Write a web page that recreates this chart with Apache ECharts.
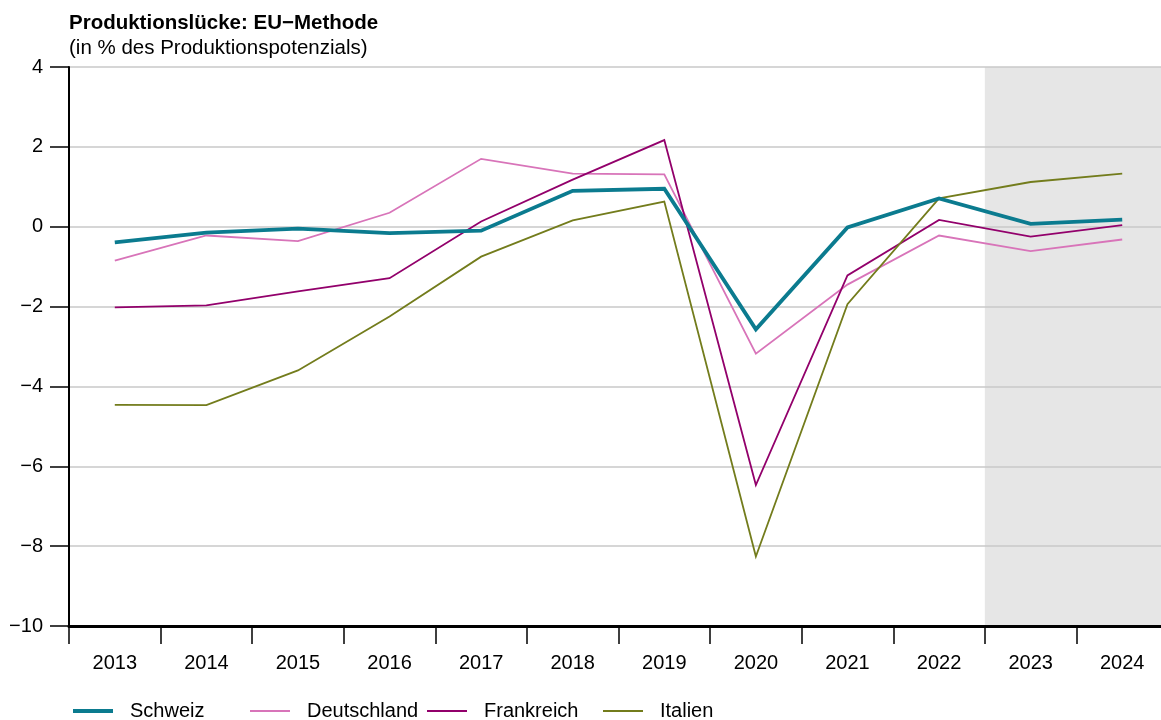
<!DOCTYPE html>
<html><head><meta charset="utf-8">
<script src="https://cdn.jsdelivr.net/npm/echarts@6/dist/echarts.min.js"></script>
<style>html,body{margin:0;padding:0;background:#fff}#c{width:1161px;height:720px}</style>
</head><body><div id="c"></div>
<script>
const years = ['2013','2014','2015','2016','2017','2018','2019','2020','2021','2022','2023','2024'];
const schweiz     = [-0.39, -0.15, -0.05, -0.16, -0.10, 0.90, 0.95, -2.57, -0.02, 0.71, 0.07, 0.18];
const deutschland = [-0.85, -0.22, -0.36, 0.35, 1.70, 1.33, 1.31, -3.18, -1.45, -0.22, -0.61, -0.32];
const frankreich  = [-2.02, -1.97, -1.62, -1.29, 0.13, 1.18, 2.17, -6.47, -1.22, 0.17, -0.25, 0.04];
const italien     = [-4.46, -4.47, -3.60, -2.25, -0.75, 0.16, 0.63, -8.26, -1.94, 0.71, 1.12, 1.33];
const yTicks = [-10, -8, -6, -4, -2, 0, 2, 4];
const forecastStart = 10, forecastEnd = 12;

const FONT = 'Liberation Sans, Arial, Helvetica, sans-serif';
const minus = v => String(v).replace('-', '\u2212');
const colors = {Schweiz:'#0b7b8f', Deutschland:'#d874b9', Frankreich:'#92006b', Italien:'#737c1c'};

function legendFor(name, left, h) {
  return {
    data: [{name: name}], left: left, top: 701, padding: 0, icon: 'rect',
    itemWidth: 40, itemHeight: h, itemGap: 0,
    textStyle: {fontFamily: FONT, fontSize: 20, color: '#000', padding: [0,0,0,12]}
  };
}
function lineSeries(name, data, width) {
  return {
    name: name, type: 'line', data: data, symbol: 'none', z: width > 2 ? 5 : 3,
    lineStyle: {color: colors[name], width: width, join: 'miter'},
    itemStyle: {color: colors[name]}
  };
}

const chart = echarts.init(document.getElementById('c'), null, {renderer: 'canvas'});
chart.setOption({
  animation: false,
  backgroundColor: 'transparent',
  textStyle: {fontFamily: FONT},
  title: {
    text: 'Produktionslücke: EU\u2212Methode',
    subtext: '(in % des Produktionspotenzials)',
    left: 64, top: 8, itemGap: 4,
    textStyle: {fontFamily: FONT, fontSize: 20.5, fontWeight: 'bold', color: '#000'},
    subtextStyle: {fontFamily: FONT, fontSize: 20.5, color: '#000'}
  },
  legend: [
    legendFor('Schweiz', 73, 4),
    legendFor('Deutschland', 250, 2),
    legendFor('Frankreich', 427, 2),
    legendFor('Italien', 603, 2)
  ],
  grid: {left: 69, width: 1099, top: 67, bottom: 94, containLabel: false, outerBoundsMode: 'none'},
  xAxis: [{
    type: 'category', data: years, boundaryGap: true, z: 6,
    axisLine: {onZero: false, lineStyle: {color: '#000', width: 3}},
    axisTick: {show: true, length: 18, lineStyle: {color: '#000', width: 1.5}},
    axisLabel: {fontFamily: FONT, fontSize: 20, color: '#000', margin: 27, interval: 0},
    splitLine: {show: false}
  }, {
    type: 'value', min: 0, max: 12, show: false
  }],
  yAxis: {
    type: 'value', min: -10, max: 4, interval: 2, z: 1.5,
    axisLine: {show: true, lineStyle: {color: '#000', width: 2}},
    axisTick: {show: true, length: 19, lineStyle: {color: '#000', width: 1.5}},
    axisLabel: {fontFamily: FONT, fontSize: 20, color: '#000', margin: 26, formatter: v => minus(v)},
    splitLine: {show: true, lineStyle: {color: '#c8c8c8', width: 1.5}}
  },
  series: [
    {
      type: 'line', xAxisIndex: 1, data: [], silent: true, z: 0,
      markArea: {silent: true, z: 0, itemStyle: {color: '#e6e6e6'},
        data: [[{xAxis: forecastStart}, {xAxis: forecastEnd}]]}
    },
    lineSeries('Deutschland', deutschland, 1.8),
    lineSeries('Frankreich', frankreich, 1.8),
    lineSeries('Italien', italien, 1.8),
    lineSeries('Schweiz', schweiz, 3.8)
  ]
});
</script></body></html>
